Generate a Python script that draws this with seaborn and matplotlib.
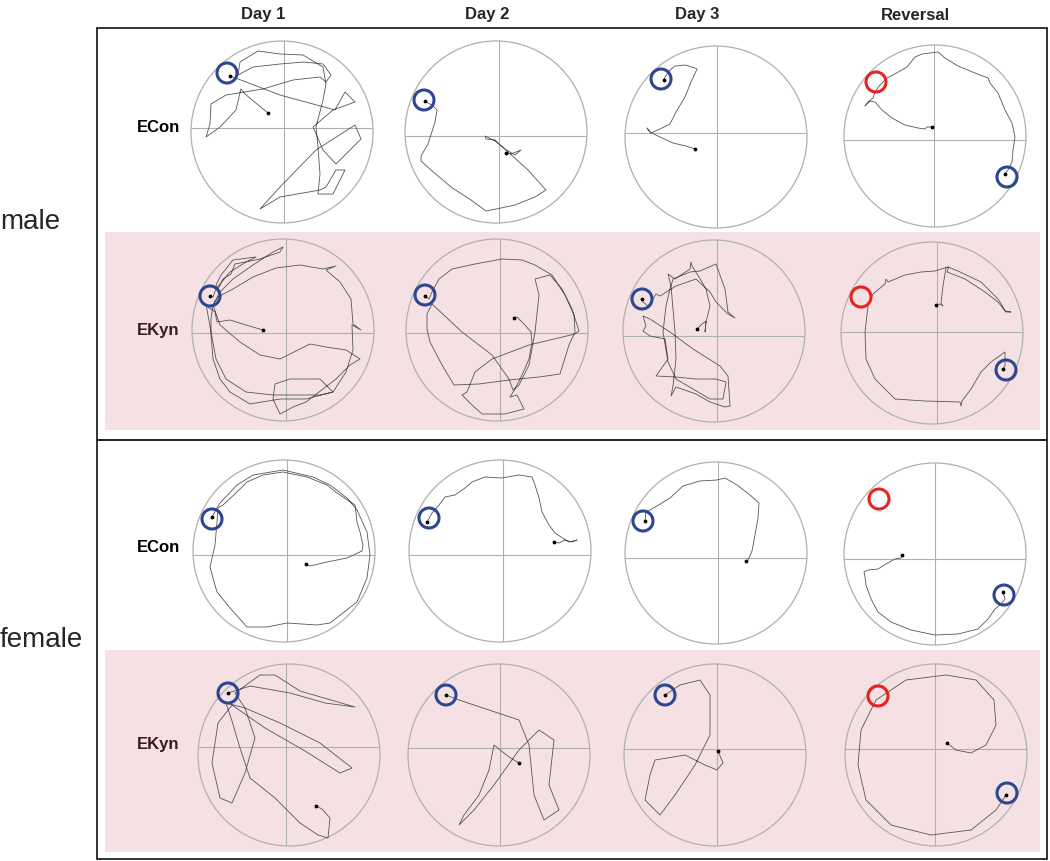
import numpy as np
import pandas as pd
import matplotlib
matplotlib.use("Agg")
import matplotlib.pyplot as plt
from matplotlib.patches import Circle, Rectangle
import seaborn as sns

sns.set_theme(style="white")
plt.rcParams['font.family'] = ['Liberation Sans', 'DejaVu Sans']

# ---------------- data ----------------
days = ["Day 1", "Day 2", "Day 3", "Reversal"]
sexes = ["male", "female"]
groups = ["ECon", "EKyn"]

POOL_R = 91   # pool radius (cm)
PLAT_R = 10   # platform radius (cm)

# swim tracks (x, y) in cm from pool centre, first point = release point
m_econ_day1 = [(-14,19),(-25,28),(-37,38),(-41,43),(-43,35),(-46,22),(-62,5),(-76,-5),(-72,8),(-71,28),
               (-56,37),(-19,43),(11,52),(38,55),(44,50),(49,57),(41,68),(22,70),(-2,68),(-29,65),(-44,57),
               (-42,70),(-24,81),(-2,78),(21,77),(41,65),(44,48),(41,32),(34,5),(36,-15),(38,-42),(36,-62),
               (51,-62),(63,-38),(54,-38),(44,-55),(38,-58),(-2,-65),(-22,-77),(-2,-55),(34,-18),(73,7),
               (79,-7),(71,-15),(54,-32),(41,-18),(31,5),(51,22),(73,30),(63,40),(53,22),(-2,37),(-49,55),(-52,56)]
m_econ_day2 = [(10,-21),(15,-22),(25,-18),(19,-23),(9,-17),(-1,-9),(-11,-4),(-10,-7),(-1,-8),(12,-20),
               (32,-38),(50,-58),(39,-65),(19,-73),(5,-76),(-10,-79),(-25,-68),(-45,-55),(-65,-38),(-75,-29),
               (-75,-24),(-68,-12),(-61,10),(-59,22),(-63,26),(-71,31)]
m_econ_day3 = [(-21,-12),(-30,-9),(-43,-6),(-56,0),(-66,5),(-69,9),(-65,4),(-56,8),(-46,13),(-40,25),
               (-31,40),(-25,55),(-19,68),(-21,69),(-31,72),(-41,71),(-47,66),(-51,60),(-52,57)]
m_econ_rev = [(-3,9),(-8,9),(-10,7),(-17,8),(-30,11),(-43,18),(-53,26),(-60,34),(-65,35),(-70,30),(-67,34),
              (-62,38),(-60,44),(-55,51),(-48,58),(-42,61),(-28,69),(-20,79),(-13,82),(3,84),(10,78),(23,70),
              (40,63),(53,58),(55,53),(63,43),(70,26),(77,13),(80,-1),(78,-14),(77,-26),(73,-34),(70,-38)]

m_ekyn_day1 = [(-20,0),(-37,5),(-53,10),(-66,8),(-68,18),(-75,23),(-77,26),(-72,-2),(-67,-29),(-57,-49),
               (-37,-62),(-10,-65),(13,-65),(37,-65),(50,-62),(63,-42),(70,-20),(69,5),(78,0),(70,6),(68,31),
               (57,48),(43,60),(53,64),(40,61),(17,65),(-7,62),(-30,53),(-50,41),(-65,33),(-70,25),(-63,5),
               (-43,-12),(-23,-25),(-3,-29),(27,-14),(43,-17),(63,-20),(77,-29),(67,-35),(53,-49),(40,-59),
               (23,-72),(10,-77),(-3,-84),(-10,-69),(-8,-54),(7,-49),(37,-49),(47,-59),(50,-62),(23,-69),
               (-3,-69),(-33,-74),(-53,-62),(-63,-49),(-70,-29),(-72,-5),(-72,11),(-70,25),(-63,38),(-50,51),
               (-30,65),(-10,78),(0,83),(-3,78),(-23,71),(-48,66),(-52,56),(-60,51),(-65,41),(-67,45),(-62,55),
               (-50,70),(-27,73),(-37,68),(-53,58),(-67,41),(-70,33),(-73,34)]
m_ekyn_day2 = [(17,12),(20,13),(27,6),(34,-2),(35,-12),(32,-29),(25,-45),(18,-59),(13,-67),(20,-65),(27,-79),
               (8,-84),(-15,-84),(-25,-75),(-35,-65),(-30,-62),(-22,-42),(-5,-29),(32,-15),(78,-4),(82,-1),
               (75,21),(65,41),(53,55),(38,51),(42,35),(38,-2),(32,-35),(22,-55),(16,-60),(12,-49),(-5,-25),
               (-35,-2),(-65,26),(-70,16),(-70,1),(-67,-12),(-55,-35),(-43,-55),(-18,-54),(12,-50),(42,-47),
               (63,-44),(72,-15),(78,-2),(77,15),(68,35),(55,55),(38,65),(25,70),(5,71),(-22,66),(-45,61),
               (-58,51),(-65,38),(-68,31),(-72,34)]
m_ekyn_day3 = [(-17,2),(-12,7),(-8,10),(-9,-1),(-8,9),(-4,25),(-8,42),(-15,54),(-22,65),(-23,69),(-24,62),
               (-39,52),(-46,57),(-43,45),(-41,22),(-39,-1),(-38,-28),(-41,-55),(-43,-65),(-38,-56),(-18,-63),
               (-4,-71),(11,-76),(16,-75),(14,-45),(6,-35),(-21,-18),(-44,-1),(-64,12),(-71,15),(-68,5),(-71,0),
               (-64,-5),(-49,-8),(-46,-28),(-58,-45),(-38,-46),(-18,-48),(2,-48),(12,-51),(9,-68),(-4,-68),
               (-21,-58),(-38,-48),(-46,-31),(-51,-1),(-48,25),(-44,42),(-41,52),(-24,59),(-14,60),(2,67),
               (11,42),(14,19),(21,13),(14,17),(2,29),(-4,39),(-18,52),(-38,45),(-54,35),(-58,37),(-63,29),
               (-66,25),(-71,29),(-72,32)]
m_ekyn_rev = [(4,28),(8,29),(11,27),(9,30),(11,47),(14,65),(17,66),(15,61),(33,54),(53,41),(66,31),(73,22),
              (79,21),(74,21),(66,34),(49,51),(26,62),(16,66),(3,62),(-11,61),(-27,58),(-44,51),(-46,54),
              (-47,49),(-59,39),(-64,27),(-67,1),(-66,-26),(-57,-46),(-37,-66),(-7,-68),(28,-69),(29,-73),
              (30,-68),(39,-56),(49,-39),(59,-29),(66,-24),(73,-19),(73,-33),(71,-36)]

f_econ_day1 = [(22,-13),(26,-15),(43,-11),(63,-7),(78,0),(79,6),(76,19),(73,29),(71,46),(53,58),(43,66),
               (23,74),(-1,79),(-21,76),(-37,69),(-47,59),(-61,46),(-66,43),(-67,29),(-69,6),(-74,-16),(-71,-27),
               (-67,-41),(-54,-57),(-37,-76),(-17,-76),(3,-72),(33,-74),(46,-72),(73,-51),(83,-27),(86,-4),
               (83,19),(73,41),(63,53),(46,66),(29,74),(-1,81),(-31,76),(-47,66),(-64,48),(-67,43),(-72,34)]
f_econ_day2 = [(54,9),(59,8),(65,11),(72,9),(77,11),(69,9),(64,12),(55,18),(49,26),(42,39),(39,53),(35,66),
               (32,74),(19,76),(2,73),(-15,74),(-28,69),(-35,63),(-45,56),(-55,54),(-61,46),(-68,38),(-73,29)]
f_econ_day3 = [(30,-8),(32,-7),(36,2),(39,18),(42,35),(43,50),(34,58),(21,68),(9,75),(1,73),(-16,72),
               (-33,67),(-46,55),(-59,47),(-66,43),(-70,42),(-71,32)]
f_econ_rev = [(-33,-1),(-34,-4),(-40,-5),(-49,-10),(-57,-15),(-67,-16),(-71,-18),(-70,-23),(-69,-31),
              (-64,-45),(-57,-58),(-44,-68),(-24,-76),(0,-81),(23,-80),(43,-75),(53,-65),(60,-55),(66,-50),
              (70,-45),(68,-38)]

f_ekyn_day1 = [(27,-51),(33,-54),(41,-63),(39,-83),(29,-80),(11,-68),(-14,-43),(-39,-23),(-49,7),(-57,34),
               (-63,52),(-44,47),(-9,32),(31,12),(63,-13),(51,-18),(16,4),(-24,27),(-57,50),(-71,32),(-77,-8),
               (-69,-43),(-57,-48),(-44,-18),(-34,17),(-44,47),(-54,62),(-29,80),(-14,80),(11,64),(66,48),
               (36,52),(1,62),(-39,69),(-61,62)]
f_ekyn_day2 = [(20,-8),(10,-2),(-5,10),(-10,-15),(-20,-40),(-35,-60),(-40,-70),(-25,-55),(-5,-30),(20,5),
               (40,25),(55,15),(50,-30),(60,-55),(45,-65),(35,-40),(30,10),(20,35),(-10,45),(-40,55),(-53,60)]
f_ekyn_day3 = [(3,4),(8,-8),(2,-15),(-10,-10),(-30,0),(-60,-5),(-65,-20),(-70,-45),(-55,-60),(-40,-40),
               (-20,-10),(-5,20),(-5,60),(-15,75),(-35,70),(-50,60)]
f_ekyn_rev = [(11,12),(20,5),(35,2),(50,10),(60,30),(58,55),(40,75),(10,80),(-30,75),(-60,55),(-75,25),
              (-78,-10),(-70,-45),(-45,-70),(-5,-80),(35,-75),(60,-55),(70,-40)]

# target platform (current) per panel, and previous platform on reversal day
m_econ_plat = [(-55,59),(-72,32),(-55,58),(72,-41)]
m_ekyn_plat = [(-73,34),(-72,35),(-72,32),(74,-37)]
f_econ_plat = [(-72,32),(-71,33),(-73,32),(69,-41)]
f_ekyn_plat = [(-61,62),(-53,60),(-50,60),(71,-38)]
old_plat = {"m_econ": (-59,54), "m_ekyn": (-71,36), "f_econ": (-56,55), "f_ekyn": (-58,59)}

tracks = {
    "m_econ": [m_econ_day1, m_econ_day2, m_econ_day3, m_econ_rev],
    "m_ekyn": [m_ekyn_day1, m_ekyn_day2, m_ekyn_day3, m_ekyn_rev],
    "f_econ": [f_econ_day1, f_econ_day2, f_econ_day3, f_econ_rev],
    "f_ekyn": [f_ekyn_day1, f_ekyn_day2, f_ekyn_day3, f_ekyn_rev],
}
plats = {"m_econ": m_econ_plat, "m_ekyn": m_ekyn_plat, "f_econ": f_econ_plat, "f_ekyn": f_ekyn_plat}

# ---------------- layout (pixels) ----------------
W, H = 1050, 861
fig = plt.figure(figsize=(W / 100, H / 100), dpi=100)

row_keys = ["m_econ", "m_ekyn", "f_econ", "f_ekyn"]
centers = [
    [(282, 132), (496, 132), (716, 137), (935, 136)],
    [(283, 330), (497, 330), (714, 331), (932, 333)],
    [(284, 551), (500, 551), (716, 553), (935, 554)],
    [(289, 755), (499, 755), (715, 755), (936, 755)],
]
cross_off = [
    [(2, 4), (3, -4), (1, 4), (-1, -4)],
    [(3, -3), (3, -3), (3, -5), (5, 1)],
    [(3, -4), (3, -4), (2, -5), (0, -5)],
    [(-3, 8), (1, 7), (2, 6), (-1, 6)],
]
AX_R = 100  # half-size of each panel axes in px (== cm)

PINK = "#f5e1e4"
POOL_C = "#b0b0b0"
PATH_C = "#555555"
BLUE = "#2c4690"
RED = "#e8231f"

# pink backgrounds for EKyn rows
for y0, y1 in [(232, 430), (650, 852)]:
    fig.add_artist(Rectangle((105 / W, 1 - y1 / H), (1040 - 105) / W, (y1 - y0) / H,
                             transform=fig.transFigure, facecolor=PINK, edgecolor="none", zorder=-5))
# group boxes
for y0, y1 in [(28, 440), (440, 859)]:
    fig.add_artist(Rectangle((97 / W, 1 - y1 / H), (1047 - 97) / W, (y1 - y0) / H,
                             transform=fig.transFigure, facecolor="none", edgecolor="#222222",
                             lw=1.3, zorder=5))

for r, key in enumerate(row_keys):
    for c in range(4):
        cx, cy = centers[r][c]
        ax = fig.add_axes([(cx - AX_R) / W, 1 - (cy + AX_R) / H, 2 * AX_R / W, 2 * AX_R / H])
        ax.set_xlim(-AX_R, AX_R)
        ax.set_ylim(-AX_R, AX_R)
        ax.axis("off")
        ax.patch.set_alpha(0)

        pool = Circle((0, 0), POOL_R, facecolor="none", edgecolor=POOL_C, lw=0.9)
        ax.add_patch(pool)
        ox, oy = cross_off[r][c]
        hl = ax.axhline(oy, color=POOL_C, lw=0.8)
        vl = ax.axvline(ox, color=POOL_C, lw=0.8)
        hl.set_clip_path(pool)
        vl.set_clip_path(pool)

        df = pd.DataFrame(tracks[key][c], columns=["x", "y"])
        sns.lineplot(data=df, x="x", y="y", sort=False, estimator=None, ax=ax,
                     color=PATH_C, lw=0.6, legend=False)
        ax.scatter(df.x.iloc[[0, -1]], df.y.iloc[[0, -1]], s=3, color="black", zorder=4)
        ax.set_xlim(-AX_R, AX_R)
        ax.set_ylim(-AX_R, AX_R)
        ax.set_xlabel("")
        ax.set_ylabel("")

        px, py = plats[key][c]
        ax.add_patch(Circle((px, py), PLAT_R, facecolor="none", edgecolor=BLUE, lw=2.2, zorder=5))
        if c == 3:
            qx, qy = old_plat[key]
            ax.add_patch(Circle((qx, qy), PLAT_R, facecolor="none", edgecolor=RED, lw=2.2, zorder=5))

# column headers
for x, t in zip([263, 487, 697, 915], days):
    fig.text(x / W, 1 - 15 / H, t, ha="center", va="center", fontsize=12, fontweight="bold")
# row labels
for y, t, col in [(128, "ECon", "black"), (330, "EKyn", "#3b1b1b"),
                  (548, "ECon", "black"), (745, "EKyn", "#3b1b1b")]:
    fig.text(158 / W, 1 - y / H, t, ha="center", va="center", fontsize=12, fontweight="bold", color=col)
for y, t in [(222, "male"), (640, "female")]:
    fig.text(0 / W, 1 - y / H, t, ha="left", va="center", fontsize=20)

fig.savefig("out.png", dpi=100, facecolor="white")
